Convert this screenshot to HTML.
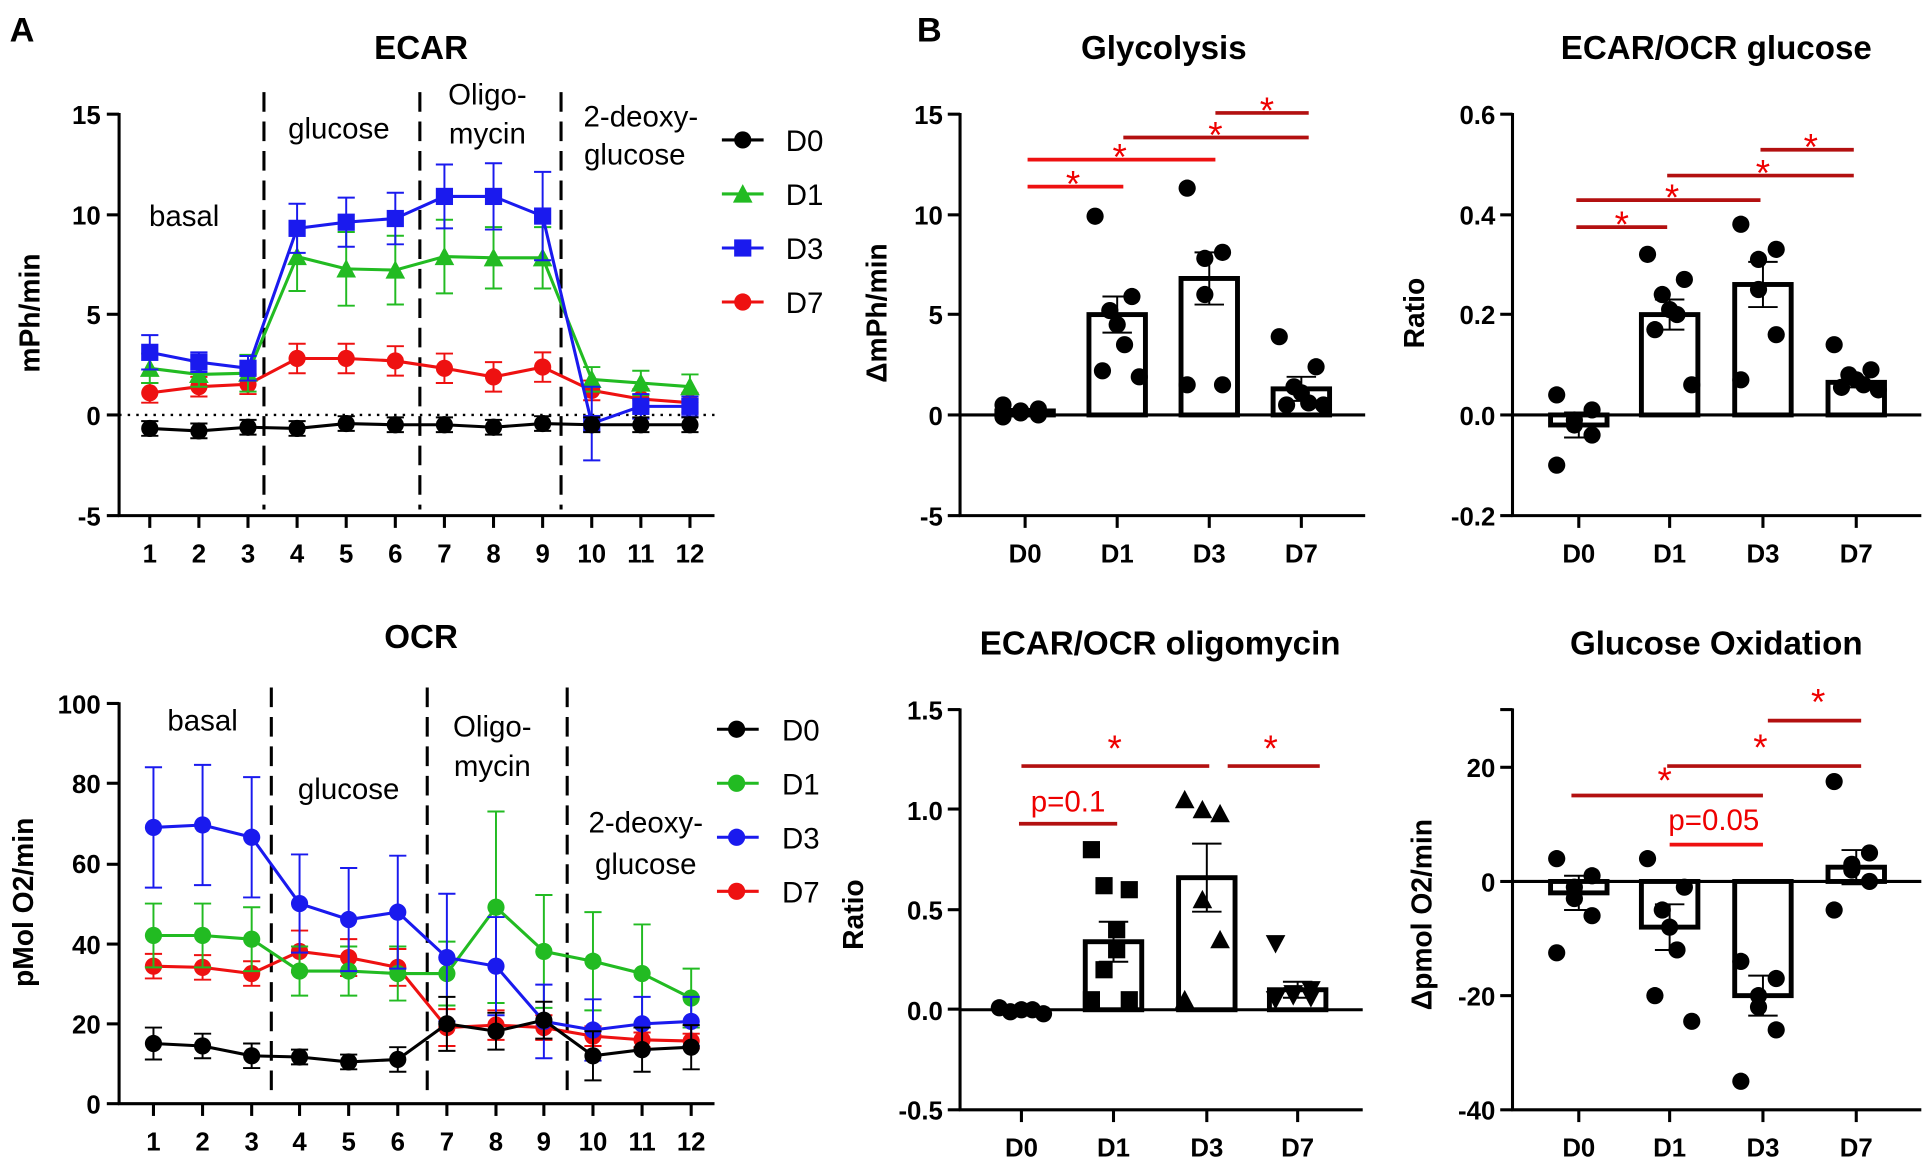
<!DOCTYPE html>
<html><head><meta charset="utf-8"><style>
html,body{margin:0;padding:0;background:#fff;}
svg{display:block;}
text{font-family:"Liberation Sans",Arial,sans-serif;}
.t{font-weight:bold;font-size:27px;text-anchor:middle;}
.k{font-weight:bold;font-size:21px;}
.ky{text-anchor:end;}
.kx{text-anchor:middle;}
.l{font-size:24px;text-anchor:middle;}
.lg{font-size:24px;}
.yl{font-weight:bold;font-size:23px;text-anchor:middle;}
.st{fill:#e00;font-size:30px;text-anchor:middle;}
</style></head><body>
<svg id="s" width="1925" height="1168" viewBox="0 0 1568 951.4" preserveAspectRatio="none" xmlns="http://www.w3.org/2000/svg">
<g id="g"></g>
<text x="18" y="34" style="font-weight:bold;font-size:28px;text-anchor:middle">A</text>
<text x="757" y="34" style="font-weight:bold;font-size:28px;text-anchor:middle">B</text>
<!-- ECAR -->
<text class="t" x="343" y="48">ECAR</text>
<text class="k ky" x="82" y="101">15</text><text class="k ky" x="82" y="183">10</text><text class="k ky" x="82" y="264">5</text><text class="k ky" x="82" y="346">0</text><text class="k ky" x="82" y="428">-5</text>
<text class="k kx" x="122" y="458">1</text><text class="k kx" x="162" y="458">2</text><text class="k kx" x="202" y="458">3</text><text class="k kx" x="242" y="458">4</text><text class="k kx" x="282" y="458">5</text><text class="k kx" x="322" y="458">6</text><text class="k kx" x="362" y="458">7</text><text class="k kx" x="402" y="458">8</text><text class="k kx" x="442" y="458">9</text><text class="k kx" x="482" y="458">10</text><text class="k kx" x="522" y="458">11</text><text class="k kx" x="562" y="458">12</text>
<text class="yl" transform="translate(32,255) rotate(-90)">mPh/min</text>
<text class="l" x="150" y="184">basal</text><text class="l" x="276" y="113">glucose</text><text class="l" x="397" y="85">Oligo-</text><text class="l" x="397" y="117">mycin</text><text class="l" x="522" y="103">2-deoxy-</text><text class="l" x="517" y="134">glucose</text>
<text class="lg" x="640" y="123">D0</text><text class="lg" x="640" y="167">D1</text><text class="lg" x="640" y="211">D3</text><text class="lg" x="640" y="255">D7</text>
<!-- OCR -->
<text class="t" x="343" y="528">OCR</text>
<text class="k ky" x="82" y="581">100</text><text class="k ky" x="82" y="646">80</text><text class="k ky" x="82" y="711">60</text><text class="k ky" x="82" y="777">40</text><text class="k ky" x="82" y="842">20</text><text class="k ky" x="82" y="907">0</text>
<text class="k kx" x="125" y="937">1</text><text class="k kx" x="165" y="937">2</text><text class="k kx" x="205" y="937">3</text><text class="k kx" x="244" y="937">4</text><text class="k kx" x="284" y="937">5</text><text class="k kx" x="324" y="937">6</text><text class="k kx" x="364" y="937">7</text><text class="k kx" x="404" y="937">8</text><text class="k kx" x="443" y="937">9</text><text class="k kx" x="483" y="937">10</text><text class="k kx" x="523" y="937">11</text><text class="k kx" x="563" y="937">12</text>
<text class="yl" transform="translate(27,735) rotate(-90)">pMol O2/min</text>
<text class="l" x="165" y="595">basal</text><text class="l" x="284" y="651">glucose</text><text class="l" x="401" y="600">Oligo-</text><text class="l" x="401" y="632">mycin</text><text class="l" x="526" y="678">2-deoxy-</text><text class="l" x="526" y="712">glucose</text>
<text class="lg" x="637" y="603">D0</text><text class="lg" x="637" y="647">D1</text><text class="lg" x="637" y="691">D3</text><text class="lg" x="637" y="735">D7</text>
<!-- Glycolysis -->
<text class="t" x="948" y="48">Glycolysis</text>
<text class="k ky" x="768" y="101">15</text><text class="k ky" x="768" y="183">10</text><text class="k ky" x="768" y="264">5</text><text class="k ky" x="768" y="346">0</text><text class="k ky" x="768" y="428">-5</text>
<text class="k kx" x="835" y="458">D0</text><text class="k kx" x="910" y="458">D1</text><text class="k kx" x="985" y="458">D3</text><text class="k kx" x="1060" y="458">D7</text>
<text class="yl" transform="translate(722,255) rotate(-90)">ΔmPh/min</text>
<text class="st" x="874" y="160">*</text><text class="st" x="912" y="138">*</text><text class="st" x="990" y="120">*</text><text class="st" x="1032" y="100">*</text>
<!-- ECAR/OCR glucose -->
<text class="t" x="1398" y="48">ECAR/OCR glucose</text>
<text class="k ky" x="1218" y="101">0.6</text><text class="k ky" x="1218" y="183">0.4</text><text class="k ky" x="1218" y="264">0.2</text><text class="k ky" x="1218" y="346">0.0</text><text class="k ky" x="1218" y="428">-0.2</text>
<text class="k kx" x="1286" y="458">D0</text><text class="k kx" x="1360" y="458">D1</text><text class="k kx" x="1436" y="458">D3</text><text class="k kx" x="1512" y="458">D7</text>
<text class="yl" transform="translate(1160,255) rotate(-90)">Ratio</text>
<text class="st" x="1321" y="193">*</text><text class="st" x="1362" y="171">*</text><text class="st" x="1436" y="151">*</text><text class="st" x="1475" y="130">*</text>
<!-- oligomycin -->
<text class="t" x="945" y="533">ECAR/OCR oligomycin</text>
<text class="k ky" x="768" y="586">1.5</text><text class="k ky" x="768" y="668">1.0</text><text class="k ky" x="768" y="749">0.5</text><text class="k ky" x="768" y="831">0.0</text><text class="k ky" x="768" y="912">-0.5</text>
<text class="k kx" x="832" y="942">D0</text><text class="k kx" x="907" y="942">D1</text><text class="k kx" x="983" y="942">D3</text><text class="k kx" x="1057" y="942">D7</text>
<text class="yl" transform="translate(703,745) rotate(-90)">Ratio</text>
<text x="870" y="661" style="fill:#e00;font-size:24px;text-anchor:middle">p=0.1</text>
<text class="st" x="908" y="620">*</text><text class="st" x="1035" y="620">*</text>
<!-- Glucose oxidation -->
<text class="t" x="1398" y="533">Glucose Oxidation</text>
<text class="k ky" x="1218" y="633">20</text><text class="k ky" x="1218" y="726">0</text><text class="k ky" x="1218" y="819">-20</text><text class="k ky" x="1218" y="912">-40</text>
<text class="k kx" x="1286" y="942">D0</text><text class="k kx" x="1360" y="942">D1</text><text class="k kx" x="1436" y="942">D3</text><text class="k kx" x="1512" y="942">D7</text>
<text class="yl" transform="translate(1166,745) rotate(-90)">Δpmol O2/min</text>
<text x="1396" y="676" style="fill:#e00;font-size:24px;text-anchor:middle">p=0.05</text>
<text class="st" x="1356" y="646">*</text><text class="st" x="1434" y="619">*</text><text class="st" x="1481" y="582">*</text>
</svg>
<script>
var g=document.getElementById('g'),h='';
function L(x1,y1,x2,y2,c,w,d){h+='<line x1="'+x1+'" y1="'+y1+'" x2="'+x2+'" y2="'+y2+'" stroke="'+(c||'#000')+'" stroke-width="'+(w||2.5)+'"'+(d?' stroke-dasharray="'+d+'"':'')+'/>';}
function E(x,y,e,c,cw){cw=cw||7;L(x,y-e,x,y+e,c,1.6);L(x-cw,y-e,x+cw,y-e,c,1.6);L(x-cw,y+e,x+cw,y+e,c,1.6);}
function M(x,y,t,c,r){r=r||7;
 if(t=='c')h+='<circle cx="'+x+'" cy="'+y+'" r="'+r+'" fill="'+c+'"/>';
 else if(t=='s')h+='<rect x="'+(x-r)+'" y="'+(y-r)+'" width="'+2*r+'" height="'+2*r+'" fill="'+c+'"/>';
 else if(t=='t')h+='<polygon points="'+x+','+(y-r-1)+' '+(x+r+1)+','+(y+r)+' '+(x-r-1)+','+(y+r)+'" fill="'+c+'"/>';
 else if(t=='v')h+='<polygon points="'+x+','+(y+r+1)+' '+(x+r+1)+','+(y-r)+' '+(x-r-1)+','+(y-r)+'" fill="'+c+'"/>';}
function yaxis(x,ys,tick){L(x,ys[0]-1,x,ys[ys.length-1]+1);ys.forEach(function(y){L(x-tick,y,x,y);});}
// ECAR
yaxis(97,[93,175,256,338,420],10);L(96,420,582,420);
for(var i=0;i<12;i++)L(122+40*i,420,122+40*i,430);
L(97,338,582,338,'#000',2,'2,5');
[215,342,457].forEach(function(x){L(x,75,x,415,'#000',2.5,'16,8');});
function series(X,Y,E_,col,mt,r){var p='';for(var i=0;i<12;i++)p+=(i?'L':'M')+X[i]+','+Y[i];
 for(var i=0;i<12;i++)E(X[i],Y[i],E_[i],col);
 h+='<path d="'+p+'" fill="none" stroke="'+col+'" stroke-width="2.5"/>';
 for(var i=0;i<12;i++)M(X[i],Y[i],mt,col,r);}
var XE=[];for(var i=0;i<12;i++)XE.push(122+40*i);
var G='#22bb22',B='#1a1aee',R='#ee1111';
series(XE,[320,315,313,292,292,294,300,307,299,318,325,328],[8,8,8,12,12,12,12,12,12,8,8,8],R,'c',7);
series(XE,[300,305,304,209,219,220,209,210,210,309,312,315],[12,10,15,28,30,28,30,25,25,10,10,10],G,'t',7);
series(XE,[287,295,300,186,181,178,160,160,176,345,331,331],[14,8,10,20,20,21,26,27,36,30,10,8],B,'s',7);
series(XE,[349,351,348,349,345,346,346,348,345,346,346,346],[6,6,6,6,6,6,6,6,6,6,6,6],'#000','c',7);
[[114,'#000','c'],[158,G,'t'],[202,B,'s'],[246,R,'c']].forEach(function(a){L(588,a[0],622,a[0],a[1],2.5);M(605,a[0],a[2],a[1],7);});
// OCR
yaxis(97,[573,638,704,769,834,899],10);L(96,899,582,899);
var XO=[125,165,205,244,284,324,364,404,443,483,523,563];
XO.forEach(function(x){L(x,899,x,909);});
[221,348,462].forEach(function(x){L(x,560,x,895,'#000',2.5,'16,8');});
series(XO,[787,788,793,775,780,788,837,835,837,844,847,848],[10,10,10,17,15,15,15,12,10,8,6,6],R,'c',7);
series(XO,[762,762,765,791,791,793,793,739,775,783,793,813],[26,26,26,20,20,22,26,78,46,40,40,24],G,'c',7);
series(XO,[674,672,682,736,749,743,780,787,832,839,834,832],[49,49,49,40,42,46,52,40,30,25,22,20],B,'c',7);
series(XO,[850,852,860,861,865,863,834,840,831,860,855,853],[13,10,10,6,6,10,22,15,15,20,18,18],'#000','c',7);
[[594,'#000'],[638,G],[682,B],[726,R]].forEach(function(a){L(584,a[0],618,a[0],a[1],2.5);M(600,a[0],'c',a[1],7);});
// bar charts
function bars(ax,ys,x0,x1,zero,bottom,cats,Yf,data,mk){
 yaxis(ax,ys,10);L(ax-1,bottom,x1,bottom);L(ax,zero,x1,zero);
 cats.forEach(function(c,i){L(c,bottom,c,bottom+10);var d=data[i];var yb=Yf(d.m);
  if(i>0||Math.abs(yb-zero)>3)h+='<rect x="'+(c-23)+'" y="'+Math.min(yb,zero)+'" width="46" height="'+Math.abs(yb-zero)+'" fill="#fff" stroke="#000" stroke-width="4"/>';
  var n=d.p.length;d.p.forEach(function(v,j){var dx=(n>1?(-18+36*j/(n-1)):0);if(j%2)dx=-dx;M(c+dx,Yf(v),mk[i],'#000',7);});
  E(c,yb,Math.abs(Yf(d.m+d.e)-yb),'#000',12);
 });}
function S(x1,x2,y,c){L(x1,y,x2,y,c,3);}
var DR='#b31010',BR='#ee1111';
bars(782,[93,175,256,338,420],782,1112,338,420,[835,910,985,1060],function(v){return 338-16.35*v;},
 [{m:0.2,e:0.1,p:[0.5,0.3,0.2,0.1,0,-0.1]},{m:5,e:0.9,p:[9.9,5.9,5.2,4.5,3.5,2.2,1.9]},{m:6.8,e:1.3,p:[11.3,8.1,7.8,6.0,1.5,1.5]},{m:1.3,e:0.6,p:[3.9,2.4,1.4,1.1,0.6,0.5,0.5]}],['c','c','c','c']);
S(837,915,152,BR);S(837,990,130,BR);S(915,1066,112,DR);S(990,1066,92,DR);
bars(1232,[93,175,256,338,420],1232,1565,338,420,[1286,1360,1436,1512],function(v){return 338-408.75*v;},
 [{m:-0.02,e:0.025,p:[0.04,0.01,-0.01,-0.02,-0.04,-0.1]},{m:0.2,e:0.03,p:[0.32,0.27,0.24,0.21,0.2,0.17,0.06]},{m:0.26,e:0.045,p:[0.38,0.33,0.31,0.25,0.16,0.07]},{m:0.065,e:0.01,p:[0.14,0.09,0.08,0.07,0.06,0.055,0.05]}],['c','c','c','c']);
S(1284,1358,185,DR);S(1284,1434,163,DR);S(1358,1510,143,DR);S(1434,1510,122,DR);
bars(782,[578,659,741,822,904],782,1110,822.5,904,[832,907,983,1057],function(v){return 822.5-163*v;},
 [{m:0,e:0.005,p:[0.01,0,0,-0.01,-0.02]},{m:0.34,e:0.1,p:[0.8,0.6,0.62,0.4,0.3,0.2,0.05,0.05]},{m:0.66,e:0.17,p:[1.05,0.98,1.0,0.55,0.35,0.05]},{m:0.1,e:0.04,p:[0.33,0.1,0.08,0.07,0.06,0.05]}],['c','s','t','v']);
S(830,910,671,DR);S(832,985,624,DR);S(1000,1075,624,DR);
bars(1232,[578,625,718,811,904],1232,1565,718,904,[1286,1360,1436,1512],function(v){return 718-4.65*v;},
 [{m:-2,e:3,p:[4,1,-1,-3,-6,-12.5]},{m:-8,e:4,p:[4,-1,-5,-8,-12,-20,-24.5]},{m:-20,e:3.5,p:[-14,-17,-20,-22,-26,-35]},{m:2.5,e:3,p:[17.5,5,3,2,0,-5]}],['c','c','c','c']);
S(1280,1436,648,DR);S(1358,1516,624,DR);S(1440,1516,587,DR);S(1360,1436,688,BR);
g.innerHTML=h;
</script>
</body></html>
